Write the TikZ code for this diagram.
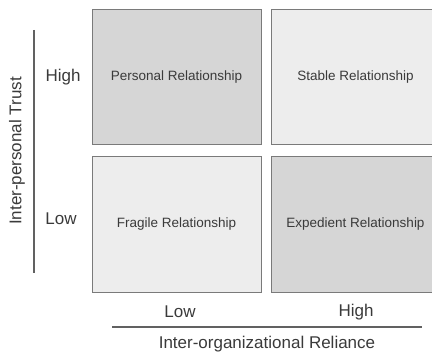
\documentclass[tikz,border=0pt]{standalone}
\usepackage{fontspec}
\setmainfont{Liberation Sans}
\definecolor{cellDark}{HTML}{D6D6D6}
\definecolor{cellLight}{HTML}{EDEDED}
\definecolor{cellLine}{HTML}{7A7A7A}
\definecolor{labelText}{HTML}{3A3A3A}
\tikzset{
  cell/.style={draw=cellLine, line width=1pt, rectangle, minimum width=169pt,
    minimum height=135pt, inner sep=0pt, text=labelText, font=\fontsize{13.5}{16}\selectfont},
  level/.style={text=labelText, font=\fontsize{17}{20}\selectfont, inner sep=0pt},
  axis/.style={draw=labelText!80, line width=1.2pt}
}
\begin{document}
\begin{tikzpicture}[x=1pt, y=-1pt]
  \useasboundingbox (0,0) rectangle (432,353);
  \clip (0,0) rectangle (432,353);
  % the four cells
  \draw
    (176.5,77.5) node[cell, fill=cellDark] (personal){Personal Relationship}
    (355.5,77.5) node[cell, fill=cellLight] (stable){Stable Relationship}
    (176.5,224.5) node[cell, fill=cellLight] (fragile){Fragile Relationship}
    (355.5,224.5) node[cell, fill=cellDark] (expedient){Expedient Relationship};
  % trust axis
  \draw
    (63,77) node[level] (hi){High}
    (61,219) node[level] (lo){Low}
    (17,151) node[level, rotate=90] (trust){Inter-personal Trust};
  \coordinate (t1) at (34,30);
  \coordinate (t2) at (34,273);
  \draw[axis] (t1) -- (t2);
  % reliance axis
  \draw
    (180,312) node[level] (rlo){Low}
    (356,312) node[level] (rhi){High}
    (267,344) node[level] (reliance){Inter-organizational Reliance};
  \coordinate (r1) at (112,327);
  \coordinate (r2) at (422,327);
  \draw[axis] (r1) -- (r2);
\end{tikzpicture}
\end{document}
